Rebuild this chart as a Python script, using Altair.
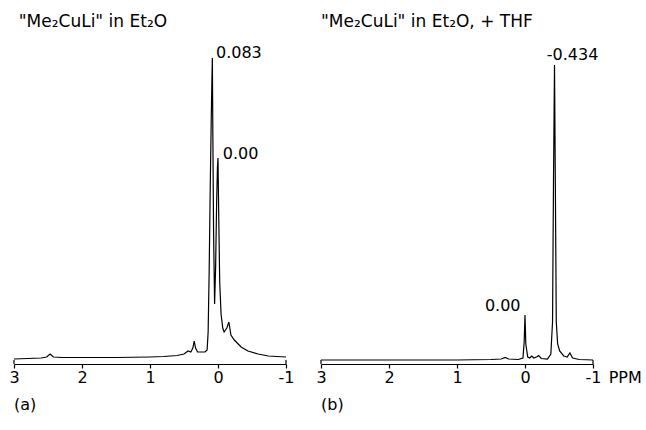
import altair as alt
import pandas as pd

FONT = "DejaVu Sans"

# Panel (a): "Me2CuLi" in Et2O  (ppm, relative intensity)
ppm_a = [3.0, 2.8, 2.6, 2.52, 2.47, 2.42, 2.3, 2.0, 1.5, 1.0, 0.8, 0.6, 0.5, 0.44, 0.40,
         0.37, 0.35, 0.33, 0.30, 0.25, 0.19, 0.16, 0.145, 0.13, 0.115, 0.10, 0.09, 0.083,
         0.076, 0.065, 0.05, 0.035, 0.02, 0.008, 0.0, -0.01, -0.025, -0.045, -0.07, -0.09,
         -0.13, -0.16, -0.19, -0.24, -0.34, -0.44, -0.59, -0.74, -1.0]
int_a = [3, 3.5, 4, 5, 8, 5, 4.5, 4.5, 4.5, 5, 5.5, 6.5, 8, 11, 10,
         14, 21, 14, 10, 10, 10, 12, 30, 90, 170, 240, 280, 304,
         230, 130, 58, 95, 160, 195, 204, 150, 80, 48, 34, 30,
         34, 40, 27, 22, 15, 11, 8, 6, 5]

# Panel (b): "Me2CuLi" in Et2O, + THF
ppm_b = [3.0, 2.0, 1.0, 0.5, 0.35, 0.29, 0.24, 0.1, 0.03, 0.012, 0.0, -0.012, -0.04,
         -0.07, -0.1, -0.13, -0.17, -0.2, -0.24, -0.33, -0.38, -0.405, -0.42, -0.434,
         -0.445, -0.46, -0.48, -0.51, -0.57, -0.62, -0.66, -0.70, -0.8, -1.0]
int_b = [2, 2, 2, 2.5, 3, 4.5, 3, 2.5, 4, 20, 47, 18, 5,
         4, 6, 4, 5, 6.5, 3.5, 3, 8, 40, 190, 297,
         190, 40, 18, 11, 6, 5, 9, 4, 2.5, 2]

tick_values = [3, 2, 1, 0, -1]

title_a = '"Me\u2082CuLi" in Et\u2082O'
title_b = '"Me\u2082CuLi" in Et\u2082O, + THF'

labels_a = pd.DataFrame({
    "ppm": [2.93, 0.03, -0.07, 3.0],
    "y": [340, 309, 208, -43],
    "text": [title_a, "0.083", "0.00", "(a)"],
    "size": [17, 16, 16, 16],
})
labels_b = pd.DataFrame({
    "ppm": [3.0, -0.32, 0.59, 3.0, -1.23],
    "y": [340, 307, 56, -43, -16],
    "text": [title_b, "-0.434", "0.00", "(b)", "PPM"],
    "size": [17, 16, 16, 16, 16],
})

W, H = 272, 354
Y_DOMAIN = [-2, 352]


def panel(ppm, inten, labels):
    df = pd.DataFrame({"ppm": ppm, "intensity": inten})
    xs = alt.Scale(domain=[-1, 3], reverse=True, nice=False, zero=False)
    ys = alt.Scale(domain=Y_DOMAIN, nice=False, zero=False)
    line = alt.Chart(df).mark_line(color="black", strokeWidth=1.2).encode(
        x=alt.X("ppm:Q", scale=xs, axis=alt.Axis(
            values=tick_values, title=None, grid=False,
            domainColor="black", domainWidth=1.2, tickColor="black", tickWidth=1.2,
            tickSize=4, labelPadding=1, labelFontSize=16, labelFont=FONT,
            labelColor="black", labelExpr="toString(datum.value)",
            labelFlush=False, labelOverlap=False)),
        y=alt.Y("intensity:Q", scale=ys, axis=None),
        order="ppm:Q",
    )
    caps = alt.Chart(pd.DataFrame({"ppm": [3, -1], "lo": [-2, -2], "hi": [2, 2]})).mark_rule(
        color="black", strokeWidth=1.2).encode(
        x=alt.X("ppm:Q", scale=xs), y=alt.Y("lo:Q", scale=ys), y2="hi:Q")
    text = alt.Chart(labels).mark_text(
        align="left", baseline="middle", font=FONT, color="black").encode(
        x=alt.X("ppm:Q", scale=xs), y=alt.Y("y:Q", scale=ys), text="text:N",
        size=alt.Size("size:Q", scale=None, legend=None))
    return alt.layer(line, caps, text).properties(width=W, height=H)


chart = alt.hconcat(
    panel(ppm_a, int_a, labels_a),
    panel(ppm_b, int_b, labels_b),
    spacing=35, bounds="flush",
).properties(
    padding={"left": 8, "top": 10, "right": 0, "bottom": 0},
    background="white",
).configure_view(stroke=None)

chart.save("out.html", embed_options={"renderer": "svg", "actions": False})
